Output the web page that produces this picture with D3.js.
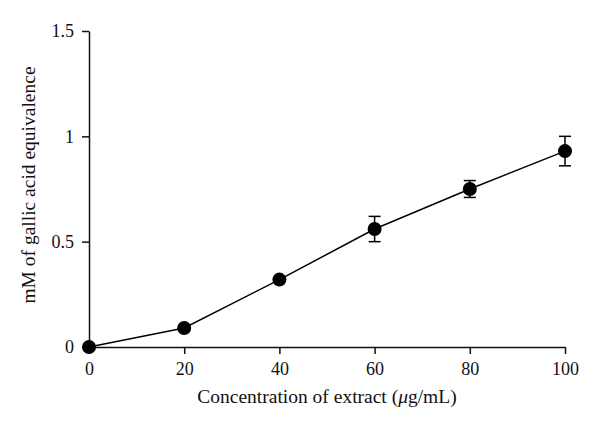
<!DOCTYPE html>
<html>
<head>
<meta charset="utf-8">
<script src="https://cdn.jsdelivr.net/npm/d3@7"></script>
<style>
  body { margin: 0; background: #fff; }
  svg { display: block; }
  text { font-family: "Liberation Serif", "DejaVu Serif", serif; fill: #111; }
</style>
</head>
<body>
<div id="chart"></div>
<script>
// concentration of extract (ug/mL)
const conc = [0, 20, 40, 60, 80, 100];
// mM of gallic acid equivalence
const gae = [0, 0.09, 0.32, 0.56, 0.75, 0.93];
const err = [0, 0.01, 0.015, 0.06, 0.04, 0.07];
const xTicks = [0, 20, 40, 60, 80, 100];
const yTicks = [0, 0.5, 1, 1.5];

const width = 600, height = 428;
const margin = {left: 89, right: 35, top: 31, bottom: 81};

const svg = d3.select("#chart").append("svg")
  .attr("width", width)
  .attr("height", height);

const x = d3.scaleLinear().domain([0, 100]).range([margin.left, width - margin.right]);
const y = d3.scaleLinear().domain([0, 1.5]).range([height - margin.bottom, margin.top]);

const xAxis = svg.append("g")
  .attr("transform", `translate(0,${y(0)})`)
  .call(d3.axisBottom(x).tickValues(xTicks).tickSize(7).tickSizeOuter(0).tickPadding(8).tickFormat(d3.format("d")));

const yAxis = svg.append("g")
  .attr("transform", `translate(${x(0)},0)`)
  .call(d3.axisLeft(y).tickValues(yTicks).tickSize(7).tickSizeOuter(0).tickPadding(8).tickFormat(d => d));

[xAxis, yAxis].forEach(g => {
  g.selectAll("path, line").attr("stroke", "#111").attr("stroke-width", 1.5);
  g.selectAll("text").style("font-size", "18px").attr("fill", "#111");
});

// axis titles
const xt = svg.append("text")
  .attr("x", 327)
  .attr("y", 403)
  .attr("text-anchor", "middle")
  .style("font-size", "19.5px");
xt.append("tspan").text("Concentration of extract (");
xt.append("tspan").style("font-style", "italic").text("\u03bc");
xt.append("tspan").text("g/mL)");

svg.append("text")
  .attr("transform", `translate(35,${(y(0) + y(1.5)) / 2 - 4}) rotate(-90)`)
  .attr("text-anchor", "middle")
  .style("font-size", "19.5px")
  .text("mM of gallic acid equivalence");

const pts = conc.map((c, i) => ({x: c, y: gae[i], e: err[i]}));

// line
svg.append("path")
  .datum(pts)
  .attr("fill", "none")
  .attr("stroke", "#000")
  .attr("stroke-width", 1.5)
  .attr("d", d3.line().x(d => x(d.x)).y(d => y(d.y)));

// error bars
const eb = svg.append("g").attr("stroke", "#000").attr("stroke-width", 1.5);
pts.filter(d => d.e > 0.02).forEach(d => {
  eb.append("line").attr("x1", x(d.x)).attr("x2", x(d.x)).attr("y1", y(d.y - d.e)).attr("y2", y(d.y + d.e));
  [d.y - d.e, d.y + d.e].forEach(v => {
    eb.append("line").attr("x1", x(d.x) - 6).attr("x2", x(d.x) + 6).attr("y1", y(v)).attr("y2", y(v));
  });
});

// markers
svg.append("g")
  .selectAll("circle")
  .data(pts)
  .join("circle")
    .attr("cx", d => x(d.x))
    .attr("cy", d => y(d.y))
    .attr("r", 7)
    .attr("fill", "#000");
</script>
</body>
</html>
